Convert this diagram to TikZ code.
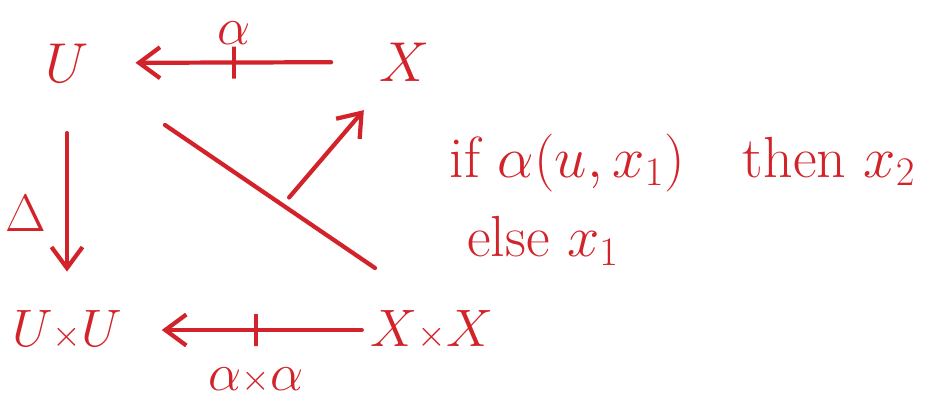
\RequirePackage{fix-cm}
\documentclass[tikz,border=0pt]{standalone}
\usepackage{tikz}
\usetikzlibrary{arrows.meta,positioning,calc}
\usepackage{xcolor}
\usepackage{amsmath}
\definecolor{InkRed}{HTML}{D2232A}

\begin{document}
\begin{tikzpicture}[x=0.02cm,y=-0.02cm,
  obj/.style={text=InkRed,inner sep=2pt,font=\fontsize{32}{36}\selectfont},
  prod/.style={obj,font=\fontsize{30}{34}\selectfont},
  lbl/.style={text=InkRed,inner sep=2pt,font=\fontsize{30}{36}\selectfont},
  cases/.style={text=InkRed,inner sep=2pt,font=\fontsize{33}{45}\selectfont},
  wire/.style={draw=InkRed,line width=2.4pt,line cap=round},
  arr/.style={wire,-{Straight Barb[length=0.42cm,width=0.62cm,line width=2.4pt]}},
  tick/.style={draw=InkRed,line width=2.4pt,minimum width=0pt,minimum height=0.64cm,inner sep=0pt}]
  \useasboundingbox (0,0) rectangle (937,406);
  % objects of the square
  \node[obj] (u)  at (67,63)   {$U$};
  \node[obj] (x)  at (405,62)  {$X$};
  \node[prod] (uu) at (67,330)  {$U{\scriptstyle\times}U$};
  \node[prod] (xx) at (432,330) {$X{\scriptstyle\times}X$};
  % relations and maps
  \draw[arr,shorten <=0.9cm,shorten >=0.86cm] (x) -- node[tick] (t1) {} (u);
  \node[lbl,above=-2pt of t1] (alpha) {$\alpha$};
  \draw[arr,shorten <=0.94cm,shorten >=0.7cm] (u) -- node[lbl,pos=0.58,left=0.3cm] (delta) {$\Delta$} (uu);
  \draw[arr,shorten <=0.1cm,shorten >=0.72cm] (xx) -- node[tick,pos=0.46] (t2) {} (uu);
  \node[lbl,below=9pt of t2] (alphaxalpha) {$\alpha{\scriptstyle\times}\alpha$};
  % diagonal with branch to X
  \coordinate (dstart) at (165,125);
  \coordinate (dend) at (375,268);
  \draw[wire] (dstart) -- coordinate[pos=0.56] (branch) (dend);
  \draw[arr,shorten <=0.2cm,shorten >=0.66cm] (branch) -- (x);
  % case expression
  \node[cases,anchor=north west,align=left] (cond) at (446,130)
    {if $\alpha(u,x_1)$\quad then $x_2$\\ \hspace{0.3em}else $x_1$};
\end{tikzpicture}
\end{document}
